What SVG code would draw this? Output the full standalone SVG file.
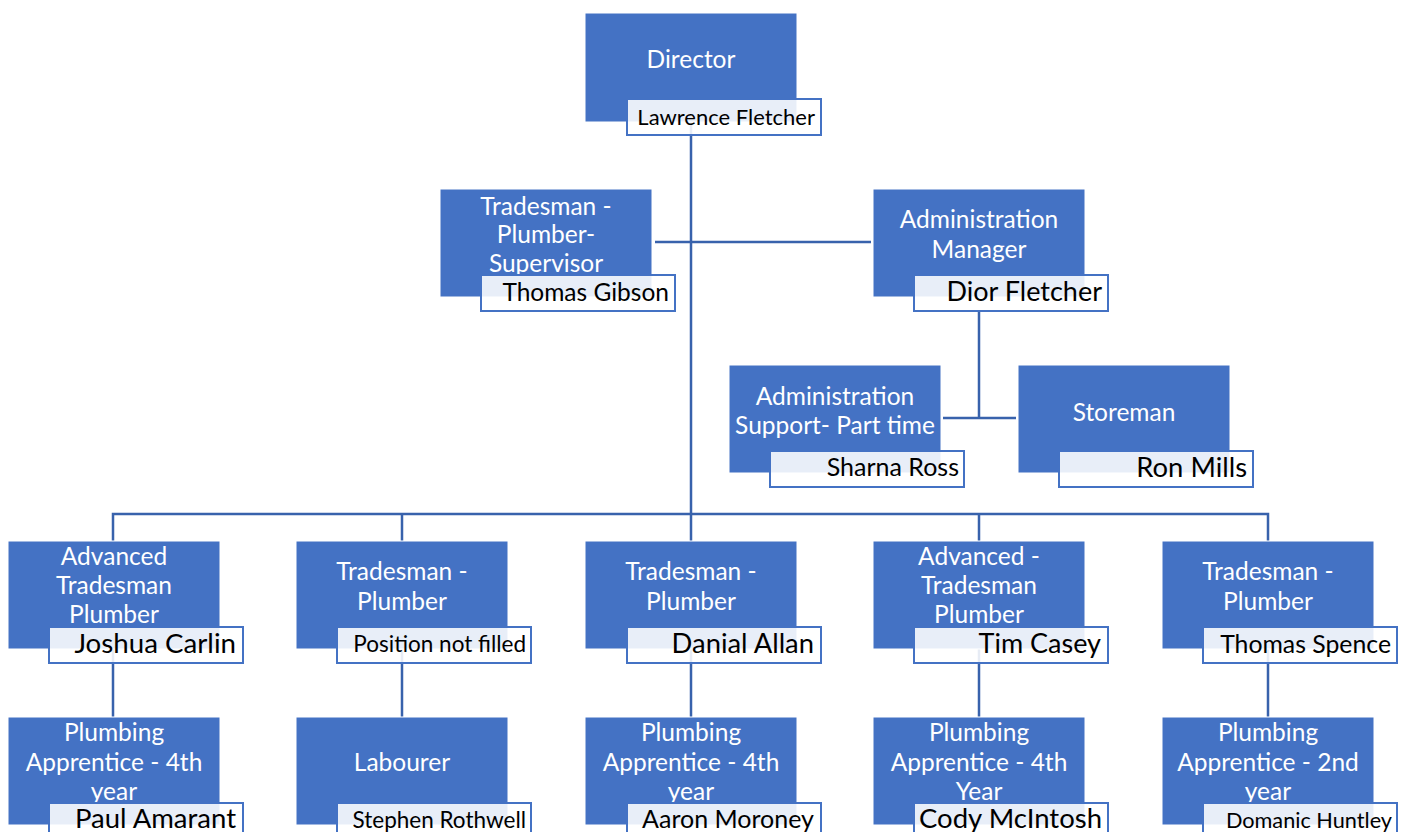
<svg xmlns="http://www.w3.org/2000/svg" width="1407" height="832" viewBox="0 0 1407 832">
<style>
.box{fill:#4472c4;stroke:#ffffff;stroke-width:1}
.nbox{fill:#ffffff;fill-opacity:0.88;stroke:#4472c4;stroke-width:2}
.t{font-family:Lato,"Liberation Sans",sans-serif;font-size:24.5px;fill:#ffffff;text-anchor:middle}
.n{font-family:Lato,"Liberation Sans",sans-serif;fill:#000000;text-anchor:end}
.c{fill:none;stroke:#3862ac;stroke-width:2.5}
</style>
<rect width="1407" height="832" fill="#ffffff"/>
<g id="connectors">
<path class="c" d="M691 122V514"/>
<path class="c" d="M655 242H871"/>
<path class="c" d="M979 312V418M943 418H1016"/>
<path class="c" d="M113 541V514H1268V541M402 514V541M691 514V541M979 514V541"/>
<path class="c" d="M113 649V717M402 649V717M691 649V717M979 649V717M1268 649V717"/>
</g>
<g id="director">
<rect class="box" x="585" y="13" width="212" height="109"/>
<text class="t" x="691" y="68">Director</text>
<rect class="nbox" x="627" y="99" width="194" height="36"/>
<text class="n" x="815" y="125" font-size="22">Lawrence Fletcher</text>
</g>
<g id="supervisor">
<rect class="box" x="440" y="189" width="212" height="108"/>
<text class="t" x="546" y="215">Tradesman -</text>
<text class="t" x="546" y="243">Plumber-</text>
<text class="t" x="546" y="272">Supervisor</text>
<rect class="nbox" x="481" y="275" width="194" height="36"/>
<text class="n" x="669" y="301" font-size="24.5">Thomas Gibson</text>
</g>
<g id="admin-manager">
<rect class="box" x="873" y="189" width="212" height="108"/>
<text class="t" x="979" y="228">Administration</text>
<text class="t" x="979" y="258">Manager</text>
<rect class="nbox" x="914" y="275" width="194" height="36"/>
<text class="n" x="1102" y="301" font-size="27">Dior Fletcher</text>
</g>
<g id="admin-support">
<rect class="box" x="729" y="365" width="212" height="108"/>
<text class="t" x="835" y="405">Administration</text>
<text class="t" x="835" y="434">Support- Part time</text>
<rect class="nbox" x="770" y="451" width="194" height="36"/>
<text class="n" x="959" y="476" font-size="25">Sharna Ross</text>
</g>
<g id="storeman">
<rect class="box" x="1018" y="365" width="212" height="108"/>
<text class="t" x="1124" y="421" font-size="28.5">Storeman</text>
<rect class="nbox" x="1059" y="451" width="194" height="36"/>
<text class="n" x="1247" y="477" font-size="27.4">Ron Mills</text>
</g>
<g id="r3-1">
<rect class="box" x="8" y="541" width="212" height="108"/>
<text class="t" x="114" y="565">Advanced</text>
<text class="t" x="114" y="594">Tradesman</text>
<text class="t" x="114" y="623">Plumber</text>
<rect class="nbox" x="49" y="627" width="194" height="36"/>
<text class="n" x="236" y="653" font-size="27.7">Joshua Carlin</text>
</g>
<g id="r3-2">
<rect class="box" x="296" y="541" width="212" height="108"/>
<text class="t" x="402" y="580">Tradesman -</text>
<text class="t" x="402" y="610">Plumber</text>
<rect class="nbox" x="337" y="627" width="194" height="36"/>
<text class="n" x="526" y="652" font-size="22.5">Position not filled</text>
</g>
<g id="r3-3">
<rect class="box" x="585" y="541" width="212" height="108"/>
<text class="t" x="691" y="580">Tradesman -</text>
<text class="t" x="691" y="610">Plumber</text>
<rect class="nbox" x="627" y="627" width="194" height="36"/>
<text class="n" x="814" y="653" font-size="27.4">Danial Allan</text>
</g>
<g id="r3-4">
<rect class="box" x="873" y="541" width="212" height="108"/>
<text class="t" x="979" y="565">Advanced -</text>
<text class="t" x="979" y="594">Tradesman</text>
<text class="t" x="979" y="623">Plumber</text>
<rect class="nbox" x="914" y="627" width="194" height="36"/>
<text class="n" x="1101" y="653" font-size="27">Tim Casey</text>
</g>
<g id="r3-5">
<rect class="box" x="1162" y="541" width="212" height="108"/>
<text class="t" x="1268" y="580">Tradesman -</text>
<text class="t" x="1268" y="610">Plumber</text>
<rect class="nbox" x="1203" y="627" width="194" height="36"/>
<text class="n" x="1391" y="653" font-size="24.8">Thomas Spence</text>
</g>
<g id="r4-1">
<rect class="box" x="8" y="717" width="212" height="108"/>
<text class="t" x="114" y="741">Plumbing</text>
<text class="t" x="114" y="771">Apprentice - 4th</text>
<text class="t" x="114" y="800">year</text>
<rect class="nbox" x="49" y="803" width="194" height="36"/>
<text class="n" x="236" y="828" font-size="27.5">Paul Amarant</text>
</g>
<g id="r4-2">
<rect class="box" x="296" y="717" width="212" height="108"/>
<text class="t" x="402" y="771">Labourer</text>
<rect class="nbox" x="337" y="803" width="194" height="36"/>
<text class="n" x="526" y="828" font-size="22.5">Stephen Rothwell</text>
</g>
<g id="r4-3">
<rect class="box" x="585" y="717" width="212" height="108"/>
<text class="t" x="691" y="741">Plumbing</text>
<text class="t" x="691" y="771">Apprentice - 4th</text>
<text class="t" x="691" y="800">year</text>
<rect class="nbox" x="627" y="803" width="194" height="36"/>
<text class="n" x="814" y="828" font-size="25">Aaron Moroney</text>
</g>
<g id="r4-4">
<rect class="box" x="873" y="717" width="212" height="108"/>
<text class="t" x="979" y="741">Plumbing</text>
<text class="t" x="979" y="771">Apprentice - 4th</text>
<text class="t" x="979" y="800">Year</text>
<rect class="nbox" x="914" y="803" width="194" height="36"/>
<text class="n" x="1102" y="828" font-size="27.5">Cody McIntosh</text>
</g>
<g id="r4-5">
<rect class="box" x="1162" y="717" width="212" height="108"/>
<text class="t" x="1268" y="741">Plumbing</text>
<text class="t" x="1268" y="771">Apprentice - 2nd</text>
<text class="t" x="1268" y="800">year</text>
<rect class="nbox" x="1203" y="803" width="194" height="36"/>
<text class="n" x="1392" y="828" font-size="21.7">Domanic Huntley</text>
</g>
</svg>
